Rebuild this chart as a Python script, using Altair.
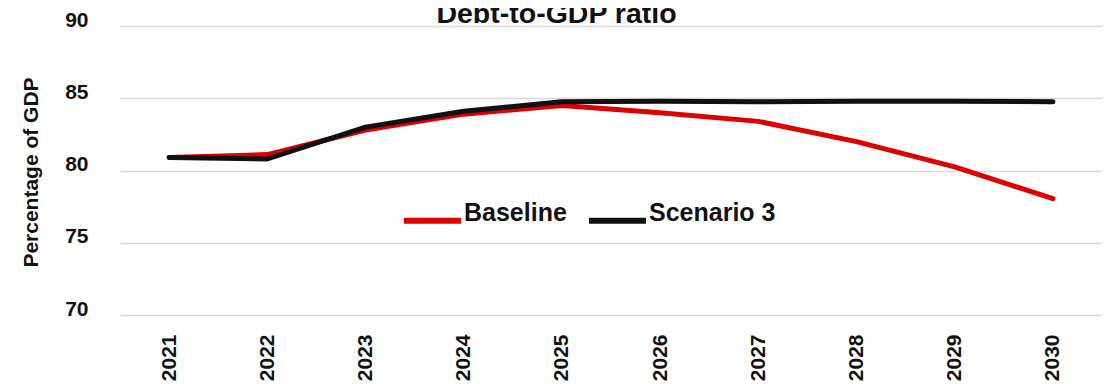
import altair as alt
import pandas as pd

years = ["2021", "2022", "2023", "2024", "2025", "2026", "2027", "2028", "2029", "2030"]
baseline = [80.9, 81.1, 82.8, 83.9, 84.5, 84.0, 83.4, 82.0, 80.25, 78.05]
scenario3 = [80.9, 80.8, 83.0, 84.1, 84.75, 84.8, 84.75, 84.8, 84.8, 84.75]
series_names = ["Baseline", "Scenario 3"]
series_colors = ["#dd0000", "#111111"]
title_text = "Debt-to-GDP ratio"
y_title = "Percentage of GDP"
y_ticks = [70, 75, 80, 85, 90]

rows = []
for name, vals in zip(series_names, [baseline, scenario3]):
    for yr, v in zip(years, vals):
        rows.append({"Year": yr, "Value": v, "Series": name})
df = pd.DataFrame(rows)

FONT = "Liberation Sans"

lines = alt.Chart(df).mark_line(strokeWidth=5, strokeCap="round", strokeJoin="round").encode(
    x=alt.X("Year:O", sort=years, title=None,
            axis=alt.Axis(labelAngle=270, labelAlign="right", labelBaseline="middle",
                          labelPadding=19, labelFontSize=21, labelFontWeight="bold",
                          labelColor="#111111", labelFont=FONT, ticks=False, domain=False,
                          grid=False)),
    y=alt.Y("Value:Q", scale=alt.Scale(domain=[70, 90], nice=False, zero=False),
            title=y_title,
            axis=alt.Axis(values=y_ticks, labelFontSize=21, labelFontWeight="bold",
                          labelColor="#111111", labelFont=FONT, labelPadding=32,
                          labelBaseline="middle", labelOffset=-6,
                          ticks=False, domain=False, grid=True, gridColor="#d9d9d9",
                          gridWidth=1.5,
                          titleFontSize=21, titleFontWeight="bold", titleColor="#111111",
                          titleFont=FONT, titleAngle=270, titleX=-89, titleY=146,
                          titleAlign="center", titleBaseline="middle")),
    color=alt.Color("Series:N", scale=alt.Scale(domain=series_names, range=series_colors),
                    legend=alt.Legend(orient="none", legendX=281, legendY=163,
                                      direction="horizontal", title=None,
                                      symbolType="stroke", symbolSize=3249,
                                      symbolStrokeWidth=6, labelFontSize=25,
                                      labelFontWeight="bold", labelColor="#111111",
                                      labelFont=FONT, labelOffset=0, columnPadding=10,
                                      labelBaseline="alphabetic")),
    order=alt.Order("Series:N"),
)

title_mark = alt.Chart(pd.DataFrame({"t": [title_text]})).mark_text(
    fontSize=28.5, fontWeight="bold", font=FONT, color="#111111",
    align="center", baseline="alphabetic"
).encode(
    text="t:N",
    x=alt.value(436.5),
    y=alt.value(-3),
)

chart = alt.layer(lines, title_mark).properties(
    width=982, height=289,
    autosize=alt.AutoSizeParams(type="none"),
    padding={"left": 112, "top": 18, "right": 4, "bottom": 70},
).configure_view(stroke=None)

chart.save("out.html", embed_options={"renderer": "svg", "actions": False})
